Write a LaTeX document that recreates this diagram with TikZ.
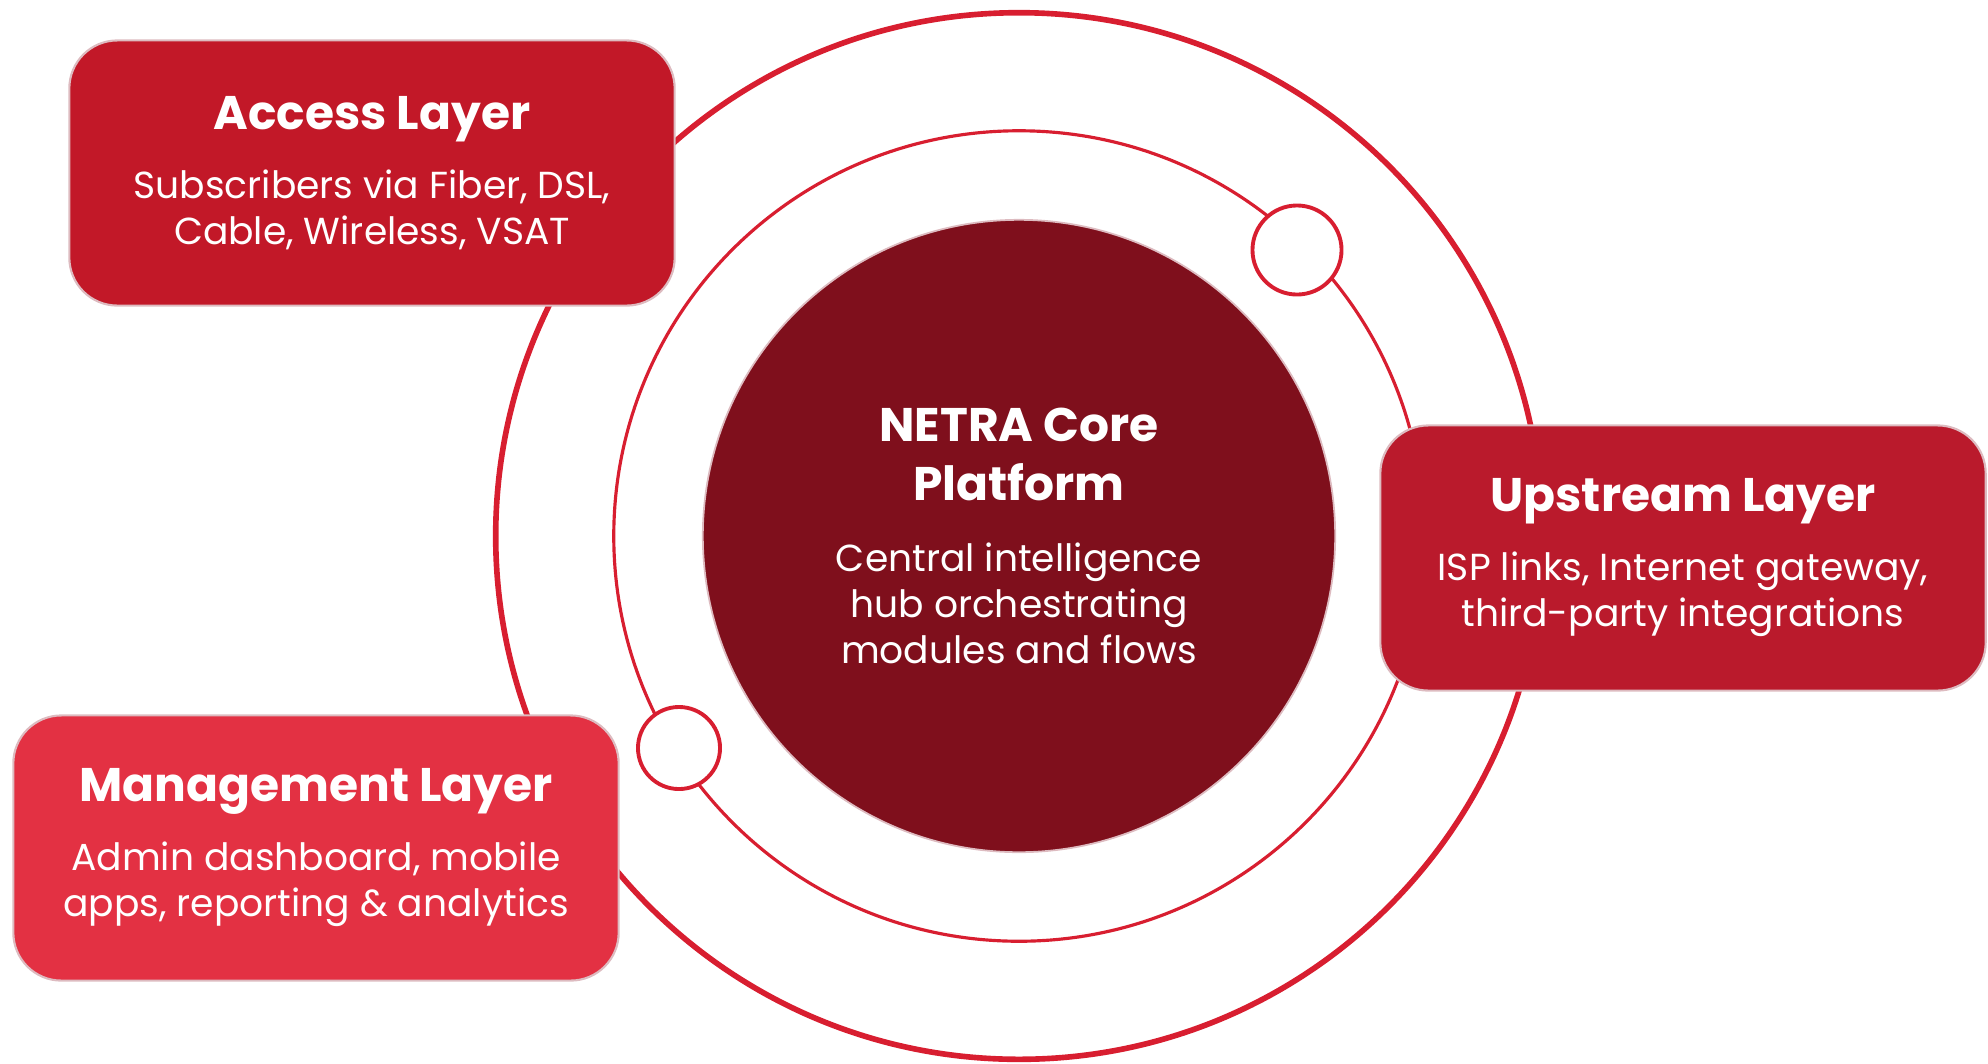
\documentclass[tikz,border=0pt]{standalone}
\usepackage{fontspec}
\setmainfont{Poppins}
\usetikzlibrary{positioning}
\definecolor{ringred}{HTML}{D81E30}
\definecolor{accessred}{HTML}{C21828}
\definecolor{upred}{HTML}{BA1A2C}
\definecolor{mgmtred}{HTML}{E33143}
\definecolor{corered}{HTML}{7F0F1C}
\definecolor{edgepink}{HTML}{DDBBC0}
\newcommand{\headfont}{\bfseries\fontsize{13.4}{16.5}\selectfont}
\newcommand{\bodyfont}{\mdseries\fontsize{10.7}{13.1}\selectfont}

\begin{document}
\begin{tikzpicture}
[
    x=0.01cm, y=-0.01cm,
    ring_node/.style={circle, draw=ringred, inner sep=0pt},
    core_node/.style={circle, draw=edgepink, line width=0.5pt, fill=corered, inner sep=0pt, minimum size=6.32cm, text=white, align=center, font=\bodyfont},
    dot_node/.style={circle, draw=ringred, line width=1.1pt, fill=white, inner sep=0pt},
    layer_box/.style={rectangle, rounded corners=0.48cm, draw=edgepink, line width=0.6pt, minimum width=6.05cm, minimum height=2.65cm, text=white, align=center, font=\bodyfont},
]
    \useasboundingbox (0,0) rectangle (1988,1063) ;
    \coordinate (hub) at (1019,536) ;
    \node[ring_node, line width=1.6pt, minimum size=10.46cm] (outer) at (hub) {} ;
    \node[ring_node, line width=0.9pt, minimum size=8.1cm] (middle) at (hub) {} ;
    \node[core_node] (core) at (hub) {\headfont NETRA Core\\[3.6pt]\headfont Platform\\[7pt] Central intelligence\\hub orchestrating\\modules and flows} ;
    \node[dot_node, minimum size=0.89cm] (dot1) at (1297,250) {} ;
    \node[dot_node, minimum size=0.82cm] (dot2) at (679,748) {} ;
    \node[layer_box, fill=accessred] (access) at (372,173) {\headfont Access Layer\\[6.5pt] Subscribers via Fiber, DSL,\\Cable, Wireless, VSAT} ;
    \node[layer_box, fill=upred] (upstream) at (1683,558) {\headfont Upstream Layer\\[6.5pt] ISP links, Internet gateway,\\third-party integrations} ;
    \node[layer_box, fill=mgmtred] (mgmt) at (316,848) {\headfont Management Layer\\[6.5pt] Admin dashboard, mobile\\apps, reporting \& analytics} ;
\end{tikzpicture}
\end{document}
